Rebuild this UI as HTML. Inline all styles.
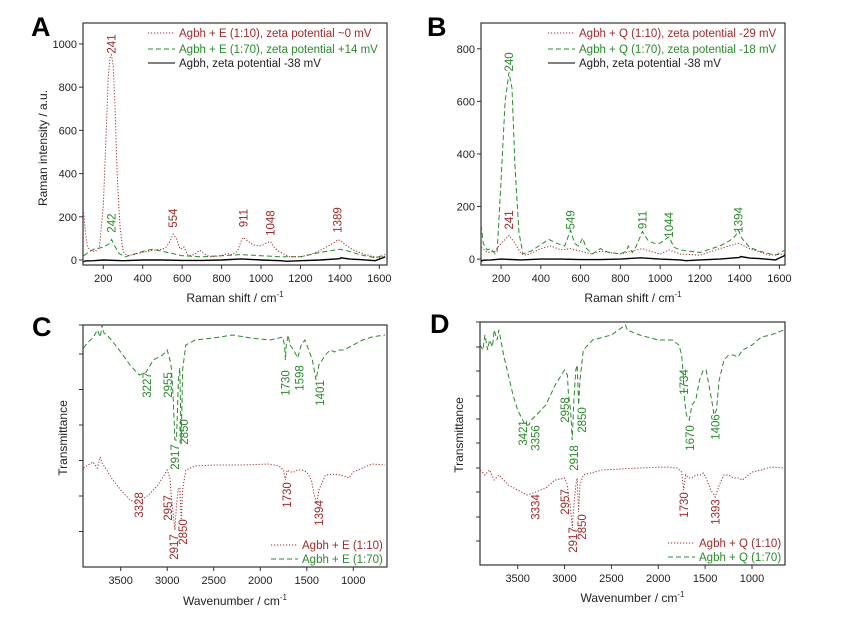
<!DOCTYPE html>
<html><head><meta charset="utf-8">
<style>
html,body{margin:0;padding:0;background:#fff;}
svg{display:block;font-family:"Liberation Sans",Arial,sans-serif;}
</style></head>
<body>
<svg id="fig" width="842" height="630" viewBox="0 0 842 630"></svg>
<script>
// ---------- Panel A (Raman, E) ----------
const aRedX = [100,110,120,140,160,180,200,215,225,235,241,250,260,270,285,300,320,350,400,450,500,520,540,554,570,590,610,630,660,690,710,740,800,830,850,880,900,911,930,960,990,1010,1030,1048,1065,1090,1120,1150,1200,1250,1300,1350,1380,1389,1400,1430,1460,1500,1550,1600,1630];
const aRedY = [220,120,60,40,40,60,250,600,850,940,950,900,700,400,150,40,20,25,35,45,50,60,90,120,100,50,60,20,25,45,30,15,20,30,25,40,90,105,90,70,65,70,80,85,60,40,25,15,15,25,45,70,85,95,90,70,50,35,20,10,25];
const aGreenX = [100,150,180,200,230,242,255,280,310,350,400,450,500,550,600,700,800,900,1000,1100,1200,1300,1400,1450,1500,1580,1630];
const aGreenY = [20,50,55,60,75,95,70,30,15,25,40,50,40,30,20,15,20,25,20,15,15,35,50,40,25,10,25];
const blackX = [100,110,150,200,300,400,500,600,700,800,900,1000,1100,1130,1200,1300,1400,1405,1450,1500,1580,1630];
const blackY = [-8,-4,-3,0,-3,0,0,-2,-2,0,5,0,-3,-6,-3,0,6,10,4,2,-3,15];
const aLabels = ["241","242","554","911","1048","1389"];
const aLabelX = [241,242,554,911,1048,1389];
const aLabelY = [1000,171,194,194,171,185];
const aLabelC = ["r","g","r","r","r","r"];

// ---------- Panel B (Raman, Q) ----------
const bGreenX = [100,110,130,150,170,180,200,220,240,255,270,290,310,350,400,440,480,520,549,570,590,610,630,660,700,740,800,830,840,860,880,911,940,970,1000,1044,1070,1100,1200,1300,1350,1380,1394,1410,1450,1500,1580,1630];
const bGreenY = [130,60,35,40,20,25,300,600,710,650,350,100,20,30,55,75,60,50,110,60,50,80,40,20,40,25,20,30,50,25,50,105,70,60,60,85,45,35,25,50,70,90,110,80,45,30,15,35];
const bRedX = [100,130,170,200,241,270,300,330,400,450,500,549,600,650,700,800,911,950,1000,1044,1100,1200,1300,1394,1450,1550,1630];
const bRedY = [45,25,30,60,90,60,20,15,40,50,35,40,30,20,30,20,40,30,20,35,20,15,40,60,40,15,20];
const bLabels = ["240","241","549","911","1044","1394"];
const bLabelX = [240,241,549,911,1044,1394];
const bLabelY = [750,149,149,149,130,149];
const bLabelC = ["g","r","g","g","g","g"];

// ---------- Panel C (IR, E) ----------
const cGreenX = [3900,3850,3800,3750,3720,3700,3680,3650,3600,3500,3400,3300,3227,3150,3050,3000,2970,2955,2935,2917,2900,2880,2865,2850,2835,2800,2700,2500,2300,2100,1900,1800,1760,1740,1730,1720,1700,1680,1640,1598,1560,1520,1480,1440,1401,1370,1300,1250,1200,1150,1100,1000,900,800,660];
const cGreenY = [219,225,229,237,230,242,234,232,227,215,202,192,195,207,212,217,207,199,167,127,127,187,199,124,197,222,227,229,232,229,227,229,230,222,207,222,232,222,217,209,222,227,217,207,187,202,212,217,215,217,217,222,227,230,232];
const cRedX = [3900,3850,3800,3750,3720,3700,3650,3600,3500,3400,3328,3200,3100,3000,2970,2957,2940,2917,2900,2880,2865,2850,2835,2800,2700,2500,2200,1900,1800,1750,1730,1710,1680,1640,1600,1550,1500,1450,1420,1394,1370,1300,1200,1100,1050,1000,900,800,660];
const cRedY = [99,102,105,99,110,104,97,89,77,67,64,72,82,97,89,72,57,37,62,79,79,47,77,97,101,102,102,103,101,97,87,97,95,95,97,97,95,87,72,64,77,92,93,91,89,95,99,103,102];
const cLabels = ["3227","2955","2850","2917","1730","1598","1401","3328","2957","2917","2850","1730","1394"];
const cLabelX = [3217,2991,2819,2916,1731,1580,1358,3303,2991,2927,2830,1710,1367];
const cLabelY = [182,182,135,110,184,189,174,62,59,20,35,72,54];
const cLabelC = ["g","g","g","g","g","g","g","r","r","r","r","r","r"];

// ---------- Panel D (IR, Q) ----------
const dGreenX = [3900,3870,3850,3820,3800,3770,3750,3720,3700,3680,3650,3600,3550,3500,3421,3380,3356,3300,3200,3100,3000,2970,2958,2935,2918,2900,2880,2865,2850,2835,2800,2700,2500,2350,2330,2200,2000,1850,1780,1750,1734,1720,1700,1670,1640,1600,1560,1520,1490,1460,1430,1406,1380,1350,1300,1250,1200,1150,1100,1000,900,800,660];
const dGreenY = [220,215,230,215,225,218,235,225,235,225,210,190,170,155,140,140,145,150,160,180,195,190,170,155,125,165,195,200,160,185,215,225,230,240,235,230,225,225,220,210,190,165,150,145,160,165,185,195,195,180,165,150,155,185,205,210,210,208,215,220,228,230,235];
const dRedX = [3900,3850,3800,3750,3700,3650,3600,3500,3400,3334,3200,3100,3000,2970,2957,2940,2917,2900,2880,2865,2850,2835,2800,2600,2200,1900,1800,1750,1730,1710,1680,1640,1600,1550,1520,1490,1440,1393,1350,1300,1250,1200,1150,1100,1000,900,800,660];
const dRedY = [95,90,95,85,90,85,80,75,70,72,77,85,87,80,65,60,37,60,80,87,53,80,90,95,97,98,97,93,75,90,87,87,90,90,92,87,75,68,80,90,90,87,87,85,93,95,98,97];
const dLabels = ["3421","3356","2958","2850","2918","1734","1670","1406","3334","2957","2917","2850","1730","1393"];
const dLabelX = [3443,3312,2995,2814,2899,1723,1659,1392,3312,2995,2910,2814,1723,1392];
const dLabelY = [132,127,155,145,107,183,127,138,58,63,25,38,60,53];
const dLabelC = ["g","g","g","g","g","g","g","g","r","r","r","r","r","r"];

const ramanXTicks = [200,400,600,800,1000,1200,1400,1600];
const aYTicks = [0,200,400,600,800,1000];
const bYTicks = [0,200,400,600,800];
const irXTicks = [3500,3000,2500,2000,1500,1000];

const RED = "#9e2a2b", GREEN = "#2b8a2b";
const NS = "http://www.w3.org/2000/svg";
const svg = document.getElementById("fig");

function el(tag, attrs, parent) {
  const e = document.createElementNS(NS, tag);
  for (const k in attrs) e.setAttribute(k, attrs[k]);
  (parent || svg).appendChild(e);
  return e;
}
function scale(d0, d1, r0, r1) { return v => r0 + (v - d0) * (r1 - r0) / (d1 - d0); }

function panel(cfg) {
  const g = el("g", {});
  
  
  const sx = scale(cfg.xd[0], cfg.xd[1], cfg.L, cfg.R);
  const sy = scale(cfg.yd[0], cfg.yd[1], cfg.B, cfg.T);
  const fr = el("rect", {x: cfg.L, y: cfg.T, width: cfg.R - cfg.L, height: cfg.B - cfg.T, fill: "none", stroke: "#333", "stroke-width": 1.2}, g);
  
  
  cfg.xt.forEach(t => {
    const x = sx(t);
    const tk = el("line", {x1: x, x2: x, y1: cfg.B, y2: cfg.B + 4, stroke: "#333"}, g);
    
    
    const lb = el("text", {x: x, y: cfg.B + 17, "font-size": 11, "text-anchor": "middle", fill: "#222"}, g);
    lb.textContent = t;
    
    
  });
  cfg.yt.forEach(t => {
    const y = sy(t);
    const tk = el("line", {x1: cfg.L - 4, x2: cfg.L, y1: y, y2: y, stroke: "#333"}, g);
    
    
    if (cfg.ylab) {
      const lb = el("text", {x: cfg.L - 6, y: y + 4, "font-size": 11, "text-anchor": "end", fill: "#222"}, g);
      lb.textContent = t;
      
      
    }
  });
  const cid = "clip" + cfg.letter;
  const cp = el("clipPath", {id: cid}, g);
  el("rect", {x: cfg.L, y: cfg.T - 2, width: cfg.R - cfg.L, height: cfg.B - cfg.T + 2}, cp);
  cfg.series.forEach(s => {
    const d = s.x.map((v, i) => (i ? "L" : "M") + sx(v).toFixed(1) + "," + sy(s.y[i]).toFixed(1)).join("");
    const p = el("path", {d: d, fill: "none", stroke: s.color, "stroke-width": s.w || 1, "stroke-dasharray": s.dash || "none", "clip-path": "url(#" + cid + ")"}, g);
    
    
  });
  cfg.labels.forEach((t, i) => {
    const x = sx(cfg.lx[i]), y = sy(cfg.ly[i]);
    const lb = el("text", {x: 0, y: 0, transform: "translate(" + (x + 4).toFixed(1) + "," + y.toFixed(1) + ") rotate(-90)", "font-size": 11.5, "text-anchor": "middle", fill: cfg.lc[i] === "r" ? RED : GREEN}, g);
    lb.textContent = t;
    
    
  });
  cfg.legend.forEach((e, i) => {
    const y = cfg.legY[i];
    const ln = el("line", {x1: cfg.legX, x2: cfg.legX + 27, y1: y, y2: y, stroke: e.color, "stroke-width": e.w || 1, "stroke-dasharray": e.dash || "none"}, g);
    
    
    const tx = el("text", {x: cfg.legX + 31, y: y + 4, "font-size": 11.5, fill: e.tcolor || e.color}, g);
    tx.textContent = e.text;
    
    
  });
  const xt = el("text", {x: (cfg.L + cfg.R) / 2, y: cfg.xTitleY, "font-size": 12, "text-anchor": "middle", fill: "#222"}, g);
  xt.innerHTML = cfg.xTitle + '<tspan dy="-5" font-size="8">-1</tspan>';
  
  
  if (cfg.yTitle) {
    const yt = el("text", {x: 0, y: 0, transform: "translate(" + cfg.yTitleX + "," + cfg.yTitleYc + ") rotate(-90)", "font-size": 12, "text-anchor": "middle", fill: "#222"}, g);
    yt.textContent = cfg.yTitle;
    
    
  }
  const pl = el("text", {x: cfg.letterX, y: cfg.letterY, "font-size": 27, "font-weight": "bold", fill: "#000"}, g);
  pl.textContent = cfg.letter;
  
  
}

const DOT = "1.2 1.8", DASH = "5 3";

panel({name: "panel-a-raman-e", letter: "A", letterX: 31, letterY: 36, L: 83, R: 387, T: 23, B: 265,
  xd: [97, 1639], yd: [-23.1, 1097], xt: ramanXTicks, yt: aYTicks, ylab: true,
  series: [
    {name: "series-agbh-e-1-70", x: aGreenX, y: aGreenY, color: GREEN, dash: DASH},
    {name: "series-agbh", x: blackX, y: blackY, color: "#000", w: 1.4},
    {name: "series-agbh-e-1-10", x: aRedX, y: aRedY, color: RED, dash: DOT}],
  labels: aLabels, lx: aLabelX, ly: aLabelY, lc: aLabelC,
  legX: 148, legY: [33, 49, 63],
  legend: [{text: "Agbh + E (1:10), zeta potential ~0 mV", color: RED, dash: DOT},
           {text: "Agbh + E (1:70), zeta potential +14 mV", color: GREEN, dash: DASH},
           {text: "Agbh, zeta potential -38 mV", color: "#000", tcolor: "#222"}],
  xTitle: "Raman shift / cm", xTitleY: 302, yTitle: "Raman intensity / a.u.", yTitleX: 47, yTitleYc: 148});

panel({name: "panel-b-raman-q", letter: "B", letterX: 427, letterY: 36, L: 481, R: 785, T: 23, B: 265,
  xd: [99, 1628], yd: [-22.4, 898], xt: ramanXTicks, yt: bYTicks, ylab: true,
  series: [
    {name: "series-agbh", x: blackX, y: blackY, color: "#000", w: 1.4},
    {name: "series-agbh-q-1-10", x: bRedX, y: bRedY, color: RED, dash: DOT},
    {name: "series-agbh-q-1-70", x: bGreenX, y: bGreenY, color: GREEN, dash: DASH}],
  labels: bLabels, lx: bLabelX, ly: bLabelY, lc: bLabelC,
  legX: 548, legY: [33, 49, 63],
  legend: [{text: "Agbh + Q (1:10), zeta potential -29 mV", color: RED, dash: DOT},
           {text: "Agbh + Q (1:70), zeta potential -18 mV", color: GREEN, dash: DASH},
           {text: "Agbh, zeta potential -38 mV", color: "#000", tcolor: "#222"}],
  xTitle: "Raman shift / cm", xTitleY: 302});

panel({name: "panel-c-ir-e", letter: "C", letterX: 32, letterY: 336, L: 83, R: 387, T: 325, B: 567,
  xd: [3905, 638], yd: [0, 242], xt: irXTicks, yt: [35.5, 71, 106.5, 142, 177.5, 213, 242], ylab: false,
  series: [
    {name: "series-agbh-e-1-70", x: cGreenX, y: cGreenY, color: GREEN, dash: DASH},
    {name: "series-agbh-e-1-10", x: cRedX, y: cRedY, color: RED, dash: DOT}],
  labels: cLabels, lx: cLabelX, ly: cLabelY, lc: cLabelC,
  legX: 271, legY: [545, 559],
  legend: [{text: "Agbh + E (1:10)", color: RED, dash: DOT},
           {text: "Agbh + E (1:70)", color: GREEN, dash: DASH}],
  xTitle: "Wavenumber / cm", xTitleY: 605, yTitle: "Transmittance", yTitleX: 67, yTitleYc: 438});

panel({name: "panel-d-ir-q", letter: "D", letterX: 430, letterY: 333, L: 480, R: 785, T: 322, B: 565,
  xd: [3902, 648], yd: [0, 243], xt: irXTicks, yt: [24, 48, 73, 97, 122, 146, 169, 194, 218, 243], ylab: false,
  series: [
    {name: "series-agbh-q-1-70", x: dGreenX, y: dGreenY, color: GREEN, dash: DASH},
    {name: "series-agbh-q-1-10", x: dRedX, y: dRedY, color: RED, dash: DOT}],
  labels: dLabels, lx: dLabelX, ly: dLabelY, lc: dLabelC,
  legX: 668, legY: [543, 557],
  legend: [{text: "Agbh + Q (1:10)", color: RED, dash: DOT},
           {text: "Agbh + Q (1:70)", color: GREEN, dash: DASH}],
  xTitle: "Wavenumber / cm", xTitleY: 602, yTitle: "Transmittance", yTitleX: 463, yTitleYc: 435});
</script>
</body></html>
